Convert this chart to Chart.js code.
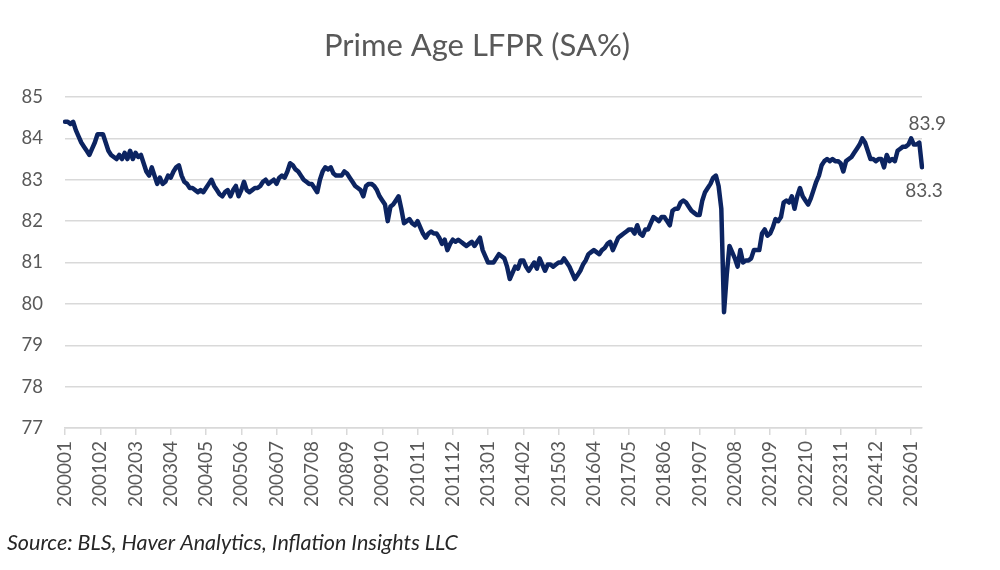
<!DOCTYPE html>
<html>
<head>
<meta charset="utf-8">
<script src="https://cdn.jsdelivr.net/npm/chart.js@4"></script>
<style>
  html, body { margin: 0; padding: 0; background: #ffffff; }
  #wrap { width: 1000px; height: 570px; }
</style>
</head>
<body>
<div id="wrap"><canvas id="c" width="1000" height="570"></canvas></div>
<script>
// ---- data ----
const titleText = "Prime Age LFPR (SA%)";
const sourceText = "Source: BLS, Haver Analytics, Inflation Insights LLC";
const startYear = 2000;
const monthCount = 317; // 200001 .. 202605
const tickLabels = ["200001","200102","200203","200304","200405","200506","200607","200708","200809","200910","201011","201112","201301","201402","201503","201604","201705","201806","201907","202008","202109","202210","202311","202412","202601"];
const yTicks = [77, 78, 79, 80, 81, 82, 83, 84, 85];

const lfpr2000_2004 = [
  84.4, 84.4, 84.35, 84.4, 84.2, 84.05, 83.9, 83.8, 83.7, 83.6, 83.75, 83.9,
  84.1, 84.1, 84.1, 83.9, 83.7, 83.6, 83.55, 83.5, 83.6, 83.5, 83.65, 83.5,
  83.7, 83.5, 83.65, 83.55, 83.6, 83.4, 83.2, 83.1, 83.3, 83.1, 82.9, 83.05,
  82.9, 82.95, 83.1, 83.05, 83.2, 83.3, 83.35, 83.1, 82.95, 82.9, 82.8, 82.8,
  82.75, 82.7, 82.75, 82.7, 82.8, 82.9, 83.0, 82.85, 82.75, 82.65, 82.6, 82.7
];
const lfpr2005_2009 = [
  82.75, 82.6, 82.75, 82.85, 82.6, 82.75, 82.95, 82.75, 82.7, 82.75, 82.8, 82.8,
  82.85, 82.95, 83.0, 82.9, 82.95, 83.0, 82.9, 83.05, 83.1, 83.05, 83.2, 83.4,
  83.35, 83.25, 83.2, 83.1, 83.0, 82.95, 82.9, 82.9, 82.8, 82.7, 83.0, 83.2,
  83.3, 83.25, 83.3, 83.15, 83.1, 83.1, 83.1, 83.2, 83.15, 83.05, 82.95, 82.85,
  82.8, 82.75, 82.6, 82.85, 82.9, 82.9, 82.85, 82.75, 82.6, 82.5, 82.4, 82.0
];
const lfpr2010_2014 = [
  82.35, 82.4, 82.5, 82.6, 82.3, 81.95, 82.0, 82.05, 81.95, 81.9, 82.0, 81.85,
  81.7, 81.6, 81.7, 81.75, 81.7, 81.7, 81.6, 81.45, 81.55, 81.3, 81.45, 81.55,
  81.5, 81.55, 81.5, 81.45, 81.4, 81.45, 81.5, 81.4, 81.5, 81.6, 81.3, 81.15,
  81.0, 81.0, 81.0, 81.1, 81.2, 81.15, 81.1, 80.9, 80.6, 80.75, 80.9, 80.85,
  81.05, 81.05, 80.9, 80.8, 80.9, 81.0, 80.85, 81.1, 80.95, 80.8, 80.95, 80.95
];
const lfpr2015_2019 = [
  80.9, 80.95, 81.0, 81.0, 81.1, 81.0, 80.9, 80.75, 80.6, 80.7, 80.8, 80.95,
  81.05, 81.2, 81.25, 81.3, 81.25, 81.2, 81.3, 81.35, 81.45, 81.5, 81.3, 81.45,
  81.6, 81.65, 81.7, 81.75, 81.8, 81.8, 81.7, 81.9, 81.7, 81.65, 81.8, 81.8,
  81.95, 82.1, 82.05, 82.0, 82.1, 82.1, 82.0, 81.9, 82.25, 82.3, 82.3, 82.45,
  82.5, 82.45, 82.35, 82.25, 82.2, 82.15, 82.15, 82.5, 82.7, 82.8, 82.9, 83.05
];
const lfpr2020_2026 = [
  83.1, 82.85, 82.3, 79.8, 80.7, 81.4, 81.25, 81.1, 80.9, 81.3, 81.0, 81.05,
  81.05, 81.1, 81.3, 81.3, 81.3, 81.7, 81.8, 81.65, 81.7, 81.85, 82.05, 82.0,
  82.1, 82.45, 82.5, 82.45, 82.6, 82.3, 82.6, 82.8, 82.6, 82.5, 82.4, 82.55,
  82.75, 82.95, 83.1, 83.35, 83.45, 83.5, 83.45, 83.5, 83.45, 83.45, 83.4, 83.2,
  83.45, 83.5, 83.55, 83.65, 83.75, 83.85, 84.0, 83.9, 83.7, 83.5, 83.5, 83.45,
  83.5, 83.5, 83.3, 83.6, 83.45, 83.5, 83.45, 83.7, 83.75, 83.8, 83.8, 83.85,
  84.0, 83.85, 83.85, 83.9, 83.3
];
const lfprValues = [].concat(lfpr2000_2004, lfpr2005_2009, lfpr2010_2014, lfpr2015_2019, lfpr2020_2026);

const categories = [];
for (let i = 0; i < monthCount; i++) {
  const y = startYear + Math.floor(i / 12);
  const m = (i % 12) + 1;
  categories.push(String(y) + (m < 10 ? "0" + m : String(m)));
}

// ---- styling ----
const FONT = "Lato, 'Open Sans', sans-serif";
const GREY_TEXT = "#595959";
const GRID = "#d9d9d9";
const LINE = "#0c2461";

const annotatePlugin = {
  id: "annotate",
  afterDraw(chart) {
    const ctx = chart.ctx;
    ctx.save();
    // title
    ctx.fillStyle = GREY_TEXT;
    ctx.font = "31px " + FONT;
    ctx.textAlign = "center";
    ctx.textBaseline = "middle";
    ctx.fillText(titleText, 477, 46);
    // source
    ctx.fillStyle = "#262626";
    ctx.font = "italic 21.5px " + FONT;
    ctx.textAlign = "left";
    ctx.textBaseline = "middle";
    ctx.fillText(sourceText, 7, 543);
    // end labels
    const meta = chart.getDatasetMeta(0);
    const n = lfprValues.length;
    const pPrev = meta.data[n - 2];
    const pLast = meta.data[n - 1];
    ctx.fillStyle = GREY_TEXT;
    ctx.font = "19px " + FONT;
    ctx.textAlign = "center";
    ctx.textBaseline = "bottom";
    ctx.fillText(lfprValues[n - 2].toFixed(1), pPrev.x + 8, pPrev.y - 9);
    ctx.textBaseline = "top";
    ctx.fillText(lfprValues[n - 1].toFixed(1), pLast.x + 2, pLast.y + 14);
    ctx.restore();
  }
};

new Chart(document.getElementById("c"), {
  type: "line",
  data: {
    labels: categories,
    datasets: [{
      data: lfprValues,
      borderColor: LINE,
      borderWidth: 4.5,
      pointRadius: 0,
      tension: 0,
      borderJoinStyle: "round",
      borderCapStyle: "round",
      fill: false
    }]
  },
  options: {
    responsive: false,
    animation: false,
    layout: { padding: { top: 97, right: 78, bottom: 0, left: 0 } },
    plugins: { legend: { display: false }, title: { display: false }, tooltip: { enabled: false } },
    scales: {
      x: {
        type: "category",
        offset: false,
        afterFit(scale) { scale.height = 142; },
        grid: { drawOnChartArea: false, drawTicks: true, tickLength: 7, color: GRID, lineWidth: 1.5 },
        border: { display: true, color: GRID, width: 1.5 },
        ticks: {
          autoSkip: false,
          maxRotation: 90,
          minRotation: 90,
          padding: 6,
          color: GREY_TEXT,
          font: { family: FONT, size: 19 },
          callback(value, index) {
            const lab = categories[index];
            return tickLabels.includes(lab) ? lab : null;
          }
        }
      },
      y: {
        min: yTicks[0],
        max: yTicks[yTicks.length - 1],
        afterFit(scale) { scale.width = 65; },
        afterBuildTicks(scale) { scale.ticks = yTicks.map(v => ({ value: v })); },
        grid: { color: GRID, lineWidth: 1.5, drawTicks: false },
        border: { display: false },
        ticks: {
          padding: 22,
          color: GREY_TEXT,
          font: { family: FONT, size: 18.5 },
          callback(v) { return String(v); }
        }
      }
    }
  },
  plugins: [annotatePlugin]
});
</script>
</body>
</html>
